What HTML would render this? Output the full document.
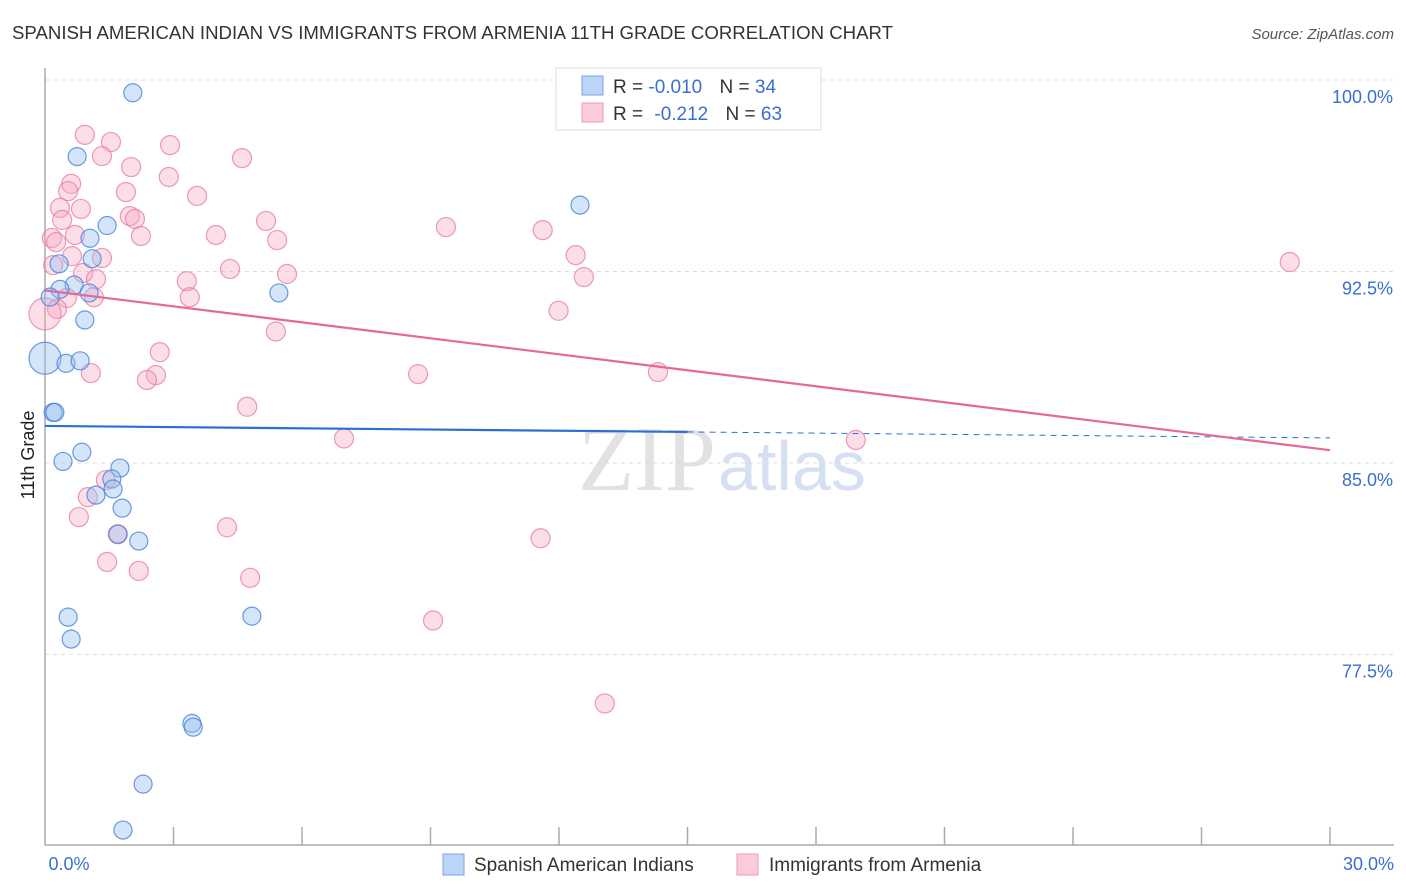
<!DOCTYPE html>
<html><head><meta charset="utf-8"><style>
body{margin:0;background:#fff;font-family:"Liberation Sans",sans-serif;}
</style></head><body>
<svg id="c" width="1406" height="892" style="display:block">
<text x="12" y="39" font-size="18" fill="#333" textLength="881" lengthAdjust="spacingAndGlyphs">SPANISH AMERICAN INDIAN VS IMMIGRANTS FROM ARMENIA 11TH GRADE CORRELATION CHART</text>
<text x="1394" y="39" font-size="15" fill="#555" font-style="italic" text-anchor="end">Source: ZipAtlas.com</text>
<text x="34" y="455" font-size="18" fill="#222" text-anchor="middle" transform="rotate(-90 34 455)">11th Grade</text>
<text x="716" y="490" font-size="92" fill="#e2e2e2" font-family="Liberation Serif" text-anchor="end">ZIP</text>
<text x="718" y="490" font-size="70" fill="#d5e1f3">atlas</text>
<g id="grid"></g><g id="axes"></g><g id="pts"></g><g id="lines"></g>
<g>
<rect x="556" y="68" width="265" height="62" fill="#fff" stroke="#ddd"/>
<rect x="582" y="76" width="21" height="19" fill="#bcd4f6" stroke="#7aa6e6"/>
<rect x="582" y="103" width="21" height="19" fill="#fbcbd9" stroke="#ee9ab4"/>
<text x="613" y="93" font-size="19" fill="#333">R = <tspan fill="#3a6fd0">-0.010</tspan>  <tspan dx="12">N = </tspan><tspan fill="#3a6fd0">34</tspan></text>
<text x="613" y="120" font-size="19" fill="#333">R = <tspan fill="#3a6fd0" dx="6">-0.212</tspan>  <tspan dx="12">N = </tspan><tspan fill="#3a6fd0">63</tspan></text>
</g>
<g>
<rect x="443" y="854" width="21" height="21" fill="#bcd4f6" stroke="#7aa6e6"/>
<text x="474" y="871" font-size="19" fill="#333">Spanish American Indians</text>
<rect x="737" y="854" width="21" height="21" fill="#fbcbd9" stroke="#ee9ab4"/>
<text x="769" y="871" font-size="19" fill="#333">Immigrants from Armenia</text>
</g>
</svg>
<script>
const yTicks=[100,92.5,85,77.5];
const xTickLabels=["0.0%","30.0%"];
const blueX=[2.05,0.75,1.45,1.05,1.10,0.33,12.49,0.68,0.35,1.03,0.12,5.46,0.93,0,0.49,0.82,0.19,0.23,0.42,0.86,1.75,1.56,1.59,1.19,1.80,1.70,2.19,0.54,0.61,4.83,3.43,3.46,2.29,1.82];
const blueY=[99.5,97.0,94.3,93.8,93.0,92.8,95.1,91.97,91.8,91.66,91.5,91.66,90.6,89.1,88.9,89.0,86.98,86.98,85.06,85.42,84.8,84.37,83.98,83.74,83.23,82.21,81.94,78.96,78.1,79.0,74.8,74.65,72.42,70.62];
const pinkX=[0.93,1.54,1.33,2.92,4.6,2.01,2.89,0.61,0.54,1.89,3.55,0.35,0.84,0.40,1.98,2.10,2.24,0.70,3.99,5.16,5.42,0.16,0.26,0.63,1.33,4.32,5.65,0.19,0.89,1.19,3.31,3.38,0.51,1.14,0.28,0,5.39,2.68,2.59,2.38,1.07,4.72,1.42,1.00,0.79,1.70,4.25,1.45,2.19,4.79,9.36,11.62,12.39,12.58,11.99,8.71,14.31,6.98,11.57,9.06,13.07,18.93,29.06];
const pinkY=[97.85,97.57,97.02,97.45,96.94,96.59,96.2,95.93,95.65,95.61,95.46,94.99,94.95,94.52,94.67,94.56,93.89,93.93,93.93,94.48,93.73,93.81,93.65,93.1,93.03,92.6,92.4,92.75,92.44,92.2,92.12,91.49,91.46,91.49,91.03,90.84,90.15,89.34,88.44,88.25,88.52,87.2,84.33,83.66,82.88,82.21,82.48,81.12,80.77,80.5,94.24,94.12,93.14,92.28,90.96,88.48,88.56,85.96,82.05,78.83,75.58,85.9,92.87];
const blueTrend=[86.45,85.98];
const pinkTrend=[91.76,85.5];
const NS="http://www.w3.org/2000/svg";
const X0=45,X1=1330,Y100=80,PX=25.53;
const xs=v=>X0+v/30*(X1-X0);
const ys=v=>Y100+(100-v)*PX;
function mk(t,a,p){const e=document.createElementNS(NS,t);for(const k in a)e.setAttribute(k,a[k]);document.getElementById(p).appendChild(e);return e;}
yTicks.forEach((t,i)=>{
 const l=mk('line',{x1:X0,x2:1394,y1:ys(t),y2:ys(t),stroke:'#ddd','stroke-dasharray':'4 4'},'grid');
 
 
 const tx=mk('text',{x:1393,y:ys(t)+23,'font-size':18,fill:'#3a6fd0','text-anchor':'end'},'grid');
 tx.textContent=(t===100?"100.0":t.toFixed(1))+"%";
 
 
});
const ax=mk('path',{d:`M${X0} 68V845H1394`,stroke:'#aaa',fill:'none','stroke-width':1.5},'axes');


for(let k=1;k<=10;k++){const t=mk('line',{x1:xs(k*3),x2:xs(k*3),y1:827,y2:845,stroke:'#aaa','stroke-width':1.5},'axes');
 
 }
[[X0+24,xTickLabels[0],'middle'],[1394,xTickLabels[1],'end']].forEach(([x,s,a])=>{const t=mk('text',{x:x,y:870,'font-size':18,fill:'#3a6fd0','text-anchor':a},'axes');t.textContent=s;
 
 });
pinkX.forEach((v,i)=>{const r=(i===35)?16:9.5;const c=mk('circle',{cx:xs(v),cy:ys(pinkY[i]),r:r,fill:'rgba(246,160,188,0.35)',stroke:'rgba(232,120,156,0.75)','stroke-width':1.2},'pts');
 
 });
blueX.forEach((v,i)=>{const r=(i===13)?16:9;const c=mk('circle',{cx:xs(v),cy:ys(blueY[i]),r:r,fill:'rgba(150,190,240,0.4)',stroke:'rgba(70,130,220,0.8)','stroke-width':1.2},'pts');
 
 });
const bm=blueTrend[0]+(blueTrend[1]-blueTrend[0])*0.5;
const b1=mk('line',{x1:xs(0),y1:ys(blueTrend[0]),x2:xs(15),y2:ys(bm),stroke:'#2b6fd6','stroke-width':2.2},'lines');


const b2=mk('line',{x1:xs(15),y1:ys(bm),x2:xs(30),y2:ys(blueTrend[1]),stroke:'#2b6fd6','stroke-width':1,'stroke-dasharray':'6 5'},'lines');


const p1=mk('line',{x1:xs(0),y1:ys(pinkTrend[0]),x2:xs(30),y2:ys(pinkTrend[1]),stroke:'#e5689a','stroke-width':2.2},'lines');


</script>
</body></html>
